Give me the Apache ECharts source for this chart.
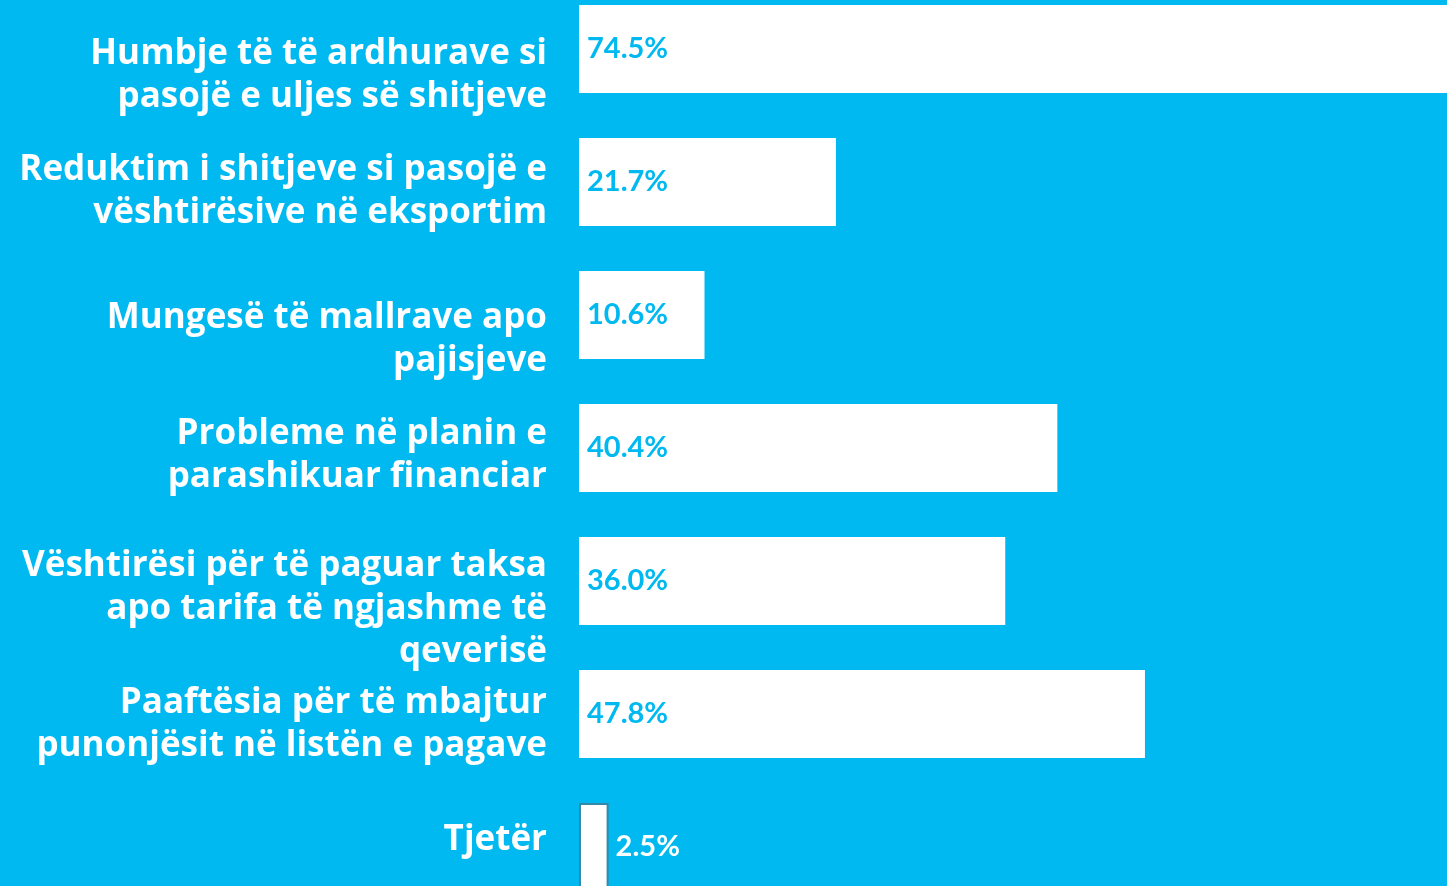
<!DOCTYPE html>
<html>
<head>
<meta charset="utf-8">
<script src="https://cdn.jsdelivr.net/npm/echarts@6/dist/echarts.min.js"></script>
<style>
html,body{margin:0;padding:0;background:#00b9f1;}
#chart{width:1447px;height:886px;}
</style>
</head>
<body>
<div id="chart"></div>
<script>
const categories = [
  "Humbje të të ardhurave si\npasojë e uljes së shitjeve",
  "Reduktim i shitjeve si pasojë e\nvështirësive në eksportim",
  "Mungesë të mallrave apo\npajisjeve",
  "Probleme në planin e\nparashikuar financiar",
  "Vështirësi për të paguar taksa\napo tarifa të ngjashme të\nqeverisë",
  "Paaftësia për të mbajtur\npunonjësit në listën e pagave",
  "Tjetër"
];
const values = [74.5, 21.7, 10.6, 40.4, 36.0, 47.8, 2.5];

// layout-only: vertical nudge of each category label (px, + = down)
const labelShift = [27, 10, 25, 7.5, 28, 10.5, -7];

const BG = '#00b9f1';

const rich = {};
labelShift.forEach((s, i) => {
  rich['sp' + i] = { fontSize: 1, lineHeight: Math.max(1, 2 * Math.abs(s)) };
});

const barData = values.map((v, i) => {
  const small = v < 5;
  return {
    value: v,
    itemStyle: small ? { color: '#ffffff', borderColor: '#3589a6', borderWidth: 2 } : { color: '#ffffff' },
    label: small
      ? { position: 'right', color: '#ffffff', distance: 7 }
      : { position: 'insideLeft', color: BG, distance: 8 }
  };
});

const chart = echarts.init(document.getElementById('chart'), null, { renderer: 'canvas' });
chart.setOption({
  backgroundColor: BG,
  animation: false,
  grid: { left: 579, top: -17.5, width: 1184, height: 931, containLabel: false, outerBoundsMode: 'none' },
  xAxis: {
    type: 'value', min: 0, max: 100,
    show: false
  },
  yAxis: {
    type: 'category',
    inverse: true,
    data: categories,
    axisLine: { show: false },
    axisTick: { show: false },
    splitLine: { show: false },
    axisLabel: {
      color: '#ffffff',
      fontFamily: 'Open Sans',
      fontWeight: 'bold',
      fontSize: 35,
      lineHeight: 43,
      align: 'right',
      margin: 32,
      interval: 0,
      rich: rich,
      formatter: (val, idx) => {
        const s = labelShift[idx];
        return s >= 0 ? '{sp' + idx + '| }\n' + val : val + '\n{sp' + idx + '| }';
      }
    }
  },
  series: [{
    type: 'bar',
    data: barData,
    barWidth: 88,
    label: {
      show: true,
      fontFamily: 'Lato',
      fontWeight: 'bold',
      fontSize: 29,
      formatter: p => p.value.toFixed(1) + '%'
    }
  }]
});
</script>
</body>
</html>
